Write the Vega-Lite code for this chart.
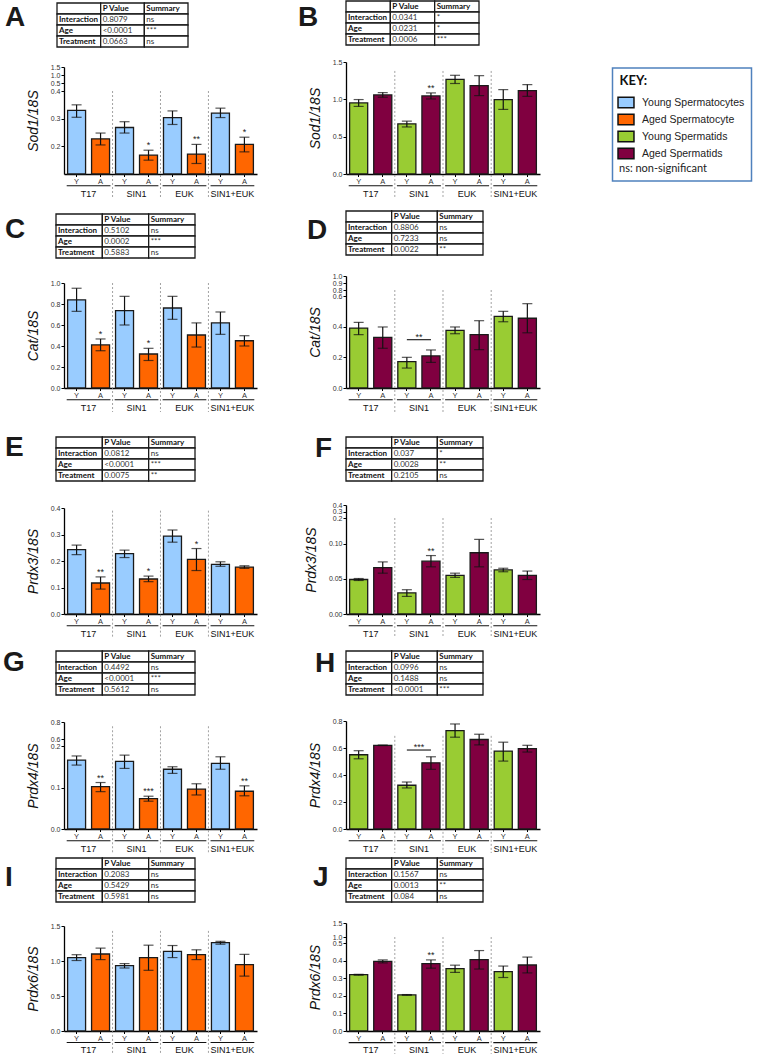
{
"$schema": "https://vega.github.io/schema/vega-lite/v6.json",
"background": "white",
"padding": {"left": 3, "top": 0, "right": 3, "bottom": 0},
"datasets": {
"groups": [
{"treat":"T17","c1":"T17|Y","c2":"T17|A"},
{"treat":"SIN1","c1":"SIN1|Y","c2":"SIN1|A"},
{"treat":"EUK","c1":"EUK|Y","c2":"EUK|A"},
{"treat":"SIN1+EUK","c1":"SIN1+EUK|Y","c2":"SIN1+EUK|A"}
],
"siglines": [
{"panel":"D","c1":"SIN1|Y","c2":"SIN1|A","yv":0.315,"label":"**"},
{"panel":"H","c1":"SIN1|Y","c2":"SIN1|A","yv":0.585,"label":"***"}
],
"tables": [
{"panel":"A","row":"0","term":"","p":"P Value","s":"Summary"},
{"panel":"A","row":"1","term":"Interaction","p":"0.8079","s":"ns"},
{"panel":"A","row":"2","term":"Age","p":"<0.0001","s":"***"},
{"panel":"A","row":"3","term":"Treatment","p":"0.0663","s":"ns"},
{"panel":"B","row":"0","term":"","p":"P Value","s":"Summary"},
{"panel":"B","row":"1","term":"Interaction","p":"0.0341","s":"*"},
{"panel":"B","row":"2","term":"Age","p":"0.0231","s":"*"},
{"panel":"B","row":"3","term":"Treatment","p":"0.0006","s":"***"},
{"panel":"C","row":"0","term":"","p":"P Value","s":"Summary"},
{"panel":"C","row":"1","term":"Interaction","p":"0.5102","s":"ns"},
{"panel":"C","row":"2","term":"Age","p":"0.0002","s":"***"},
{"panel":"C","row":"3","term":"Treatment","p":"0.5883","s":"ns"},
{"panel":"D","row":"0","term":"","p":"P Value","s":"Summary"},
{"panel":"D","row":"1","term":"Interaction","p":"0.8806","s":"ns"},
{"panel":"D","row":"2","term":"Age","p":"0.7233","s":"ns"},
{"panel":"D","row":"3","term":"Treatment","p":"0.0022","s":"**"},
{"panel":"E","row":"0","term":"","p":"P Value","s":"Summary"},
{"panel":"E","row":"1","term":"Interaction","p":"0.0812","s":"ns"},
{"panel":"E","row":"2","term":"Age","p":"<0.0001","s":"***"},
{"panel":"E","row":"3","term":"Treatment","p":"0.0075","s":"**"},
{"panel":"F","row":"0","term":"","p":"P Value","s":"Summary"},
{"panel":"F","row":"1","term":"Interaction","p":"0.037","s":"*"},
{"panel":"F","row":"2","term":"Age","p":"0.0028","s":"**"},
{"panel":"F","row":"3","term":"Treatment","p":"0.2105","s":"ns"},
{"panel":"G","row":"0","term":"","p":"P Value","s":"Summary"},
{"panel":"G","row":"1","term":"Interaction","p":"0.4492","s":"ns"},
{"panel":"G","row":"2","term":"Age","p":"<0.0001","s":"***"},
{"panel":"G","row":"3","term":"Treatment","p":"0.5612","s":"ns"},
{"panel":"H","row":"0","term":"","p":"P Value","s":"Summary"},
{"panel":"H","row":"1","term":"Interaction","p":"0.0996","s":"ns"},
{"panel":"H","row":"2","term":"Age","p":"0.1488","s":"ns"},
{"panel":"H","row":"3","term":"Treatment","p":"<0.0001","s":"***"},
{"panel":"I","row":"0","term":"","p":"P Value","s":"Summary"},
{"panel":"I","row":"1","term":"Interaction","p":"0.2083","s":"ns"},
{"panel":"I","row":"2","term":"Age","p":"0.5429","s":"ns"},
{"panel":"I","row":"3","term":"Treatment","p":"0.5981","s":"ns"},
{"panel":"J","row":"0","term":"","p":"P Value","s":"Summary"},
{"panel":"J","row":"1","term":"Interaction","p":"0.1567","s":"ns"},
{"panel":"J","row":"2","term":"Age","p":"0.0013","s":"**"},
{"panel":"J","row":"3","term":"Treatment","p":"0.084","s":"ns"}
],
"bars": [
{"panel":"A","cat":"T17|Y","group":"Young Spermatocytes","mean":0.330,"lo":0.305,"hi":0.350,"sig":""},
{"panel":"A","cat":"T17|A","group":"Aged Spermatocyte","mean":0.227,"lo":0.205,"hi":0.248,"sig":""},
{"panel":"A","cat":"SIN1|Y","group":"Young Spermatocytes","mean":0.268,"lo":0.248,"hi":0.289,"sig":""},
{"panel":"A","cat":"SIN1|A","group":"Aged Spermatocyte","mean":0.168,"lo":0.150,"hi":0.186,"sig":"*"},
{"panel":"A","cat":"EUK|Y","group":"Young Spermatocytes","mean":0.304,"lo":0.279,"hi":0.328,"sig":""},
{"panel":"A","cat":"EUK|A","group":"Aged Spermatocyte","mean":0.172,"lo":0.138,"hi":0.207,"sig":"**"},
{"panel":"A","cat":"SIN1+EUK|Y","group":"Young Spermatocytes","mean":0.320,"lo":0.304,"hi":0.338,"sig":""},
{"panel":"A","cat":"SIN1+EUK|A","group":"Aged Spermatocyte","mean":0.207,"lo":0.180,"hi":0.233,"sig":"*"},
{"panel":"B","cat":"T17|Y","group":"Young Spermatids","mean":0.952,"lo":0.905,"hi":0.997,"sig":""},
{"panel":"B","cat":"T17|A","group":"Aged Spermatids","mean":1.059,"lo":1.028,"hi":1.090,"sig":""},
{"panel":"B","cat":"SIN1|Y","group":"Young Spermatids","mean":0.672,"lo":0.630,"hi":0.708,"sig":""},
{"panel":"B","cat":"SIN1|A","group":"Aged Spermatids","mean":1.046,"lo":1.005,"hi":1.086,"sig":"**"},
{"panel":"B","cat":"EUK|Y","group":"Young Spermatids","mean":1.268,"lo":1.212,"hi":1.322,"sig":""},
{"panel":"B","cat":"EUK|A","group":"Aged Spermatids","mean":1.184,"lo":1.050,"hi":1.317,"sig":""},
{"panel":"B","cat":"SIN1+EUK|Y","group":"Young Spermatids","mean":0.997,"lo":0.865,"hi":1.130,"sig":""},
{"panel":"B","cat":"SIN1+EUK|A","group":"Aged Spermatids","mean":1.116,"lo":1.040,"hi":1.197,"sig":""},
{"panel":"C","cat":"T17|Y","group":"Young Spermatocytes","mean":0.840,"lo":0.730,"hi":0.950,"sig":""},
{"panel":"C","cat":"T17|A","group":"Aged Spermatocyte","mean":0.410,"lo":0.355,"hi":0.467,"sig":"*"},
{"panel":"C","cat":"SIN1|Y","group":"Young Spermatocytes","mean":0.737,"lo":0.600,"hi":0.873,"sig":""},
{"panel":"C","cat":"SIN1|A","group":"Aged Spermatocyte","mean":0.324,"lo":0.262,"hi":0.378,"sig":"*"},
{"panel":"C","cat":"EUK|Y","group":"Young Spermatocytes","mean":0.762,"lo":0.654,"hi":0.873,"sig":""},
{"panel":"C","cat":"EUK|A","group":"Aged Spermatocyte","mean":0.505,"lo":0.390,"hi":0.620,"sig":""},
{"panel":"C","cat":"SIN1+EUK|Y","group":"Young Spermatocytes","mean":0.620,"lo":0.511,"hi":0.724,"sig":""},
{"panel":"C","cat":"SIN1+EUK|A","group":"Aged Spermatocyte","mean":0.450,"lo":0.400,"hi":0.498,"sig":""},
{"panel":"D","cat":"T17|Y","group":"Young Spermatids","mean":0.391,"lo":0.348,"hi":0.428,"sig":""},
{"panel":"D","cat":"T17|A","group":"Aged Spermatids","mean":0.330,"lo":0.259,"hi":0.398,"sig":""},
{"panel":"D","cat":"SIN1|Y","group":"Young Spermatids","mean":0.172,"lo":0.130,"hi":0.200,"sig":""},
{"panel":"D","cat":"SIN1|A","group":"Aged Spermatids","mean":0.209,"lo":0.167,"hi":0.248,"sig":""},
{"panel":"D","cat":"EUK|Y","group":"Young Spermatids","mean":0.376,"lo":0.354,"hi":0.398,"sig":""},
{"panel":"D","cat":"EUK|A","group":"Aged Spermatids","mean":0.348,"lo":0.250,"hi":0.439,"sig":""},
{"panel":"D","cat":"SIN1+EUK|Y","group":"Young Spermatids","mean":0.467,"lo":0.432,"hi":0.500,"sig":""},
{"panel":"D","cat":"SIN1+EUK|A","group":"Aged Spermatids","mean":0.455,"lo":0.360,"hi":0.550,"sig":""},
{"panel":"E","cat":"T17|Y","group":"Young Spermatocytes","mean":0.243,"lo":0.224,"hi":0.260,"sig":""},
{"panel":"E","cat":"T17|A","group":"Aged Spermatocyte","mean":0.117,"lo":0.094,"hi":0.140,"sig":"**"},
{"panel":"E","cat":"SIN1|Y","group":"Young Spermatocytes","mean":0.228,"lo":0.213,"hi":0.241,"sig":""},
{"panel":"E","cat":"SIN1|A","group":"Aged Spermatocyte","mean":0.132,"lo":0.122,"hi":0.143,"sig":"*"},
{"panel":"E","cat":"EUK|Y","group":"Young Spermatocytes","mean":0.294,"lo":0.271,"hi":0.317,"sig":""},
{"panel":"E","cat":"EUK|A","group":"Aged Spermatocyte","mean":0.206,"lo":0.164,"hi":0.247,"sig":"*"},
{"panel":"E","cat":"SIN1+EUK|Y","group":"Young Spermatocytes","mean":0.187,"lo":0.180,"hi":0.197,"sig":""},
{"panel":"E","cat":"SIN1+EUK|A","group":"Aged Spermatocyte","mean":0.177,"lo":0.172,"hi":0.182,"sig":""},
{"panel":"F","cat":"T17|Y","group":"Young Spermatids","mean":0.049,"lo":0.0476,"hi":0.0504,"sig":""},
{"panel":"F","cat":"T17|A","group":"Aged Spermatids","mean":0.066,"lo":0.058,"hi":0.074,"sig":""},
{"panel":"F","cat":"SIN1|Y","group":"Young Spermatids","mean":0.030,"lo":0.025,"hi":0.0345,"sig":""},
{"panel":"F","cat":"SIN1|A","group":"Aged Spermatids","mean":0.075,"lo":0.067,"hi":0.083,"sig":"**"},
{"panel":"F","cat":"EUK|Y","group":"Young Spermatids","mean":0.055,"lo":0.052,"hi":0.058,"sig":""},
{"panel":"F","cat":"EUK|A","group":"Aged Spermatids","mean":0.087,"lo":0.067,"hi":0.106,"sig":""},
{"panel":"F","cat":"SIN1+EUK|Y","group":"Young Spermatids","mean":0.0626,"lo":0.060,"hi":0.065,"sig":""},
{"panel":"F","cat":"SIN1+EUK|A","group":"Aged Spermatids","mean":0.055,"lo":0.049,"hi":0.061,"sig":""},
{"panel":"G","cat":"T17|Y","group":"Young Spermatocytes","mean":0.166,"lo":0.154,"hi":0.176,"sig":""},
{"panel":"G","cat":"T17|A","group":"Aged Spermatocyte","mean":0.102,"lo":0.090,"hi":0.112,"sig":"**"},
{"panel":"G","cat":"SIN1|Y","group":"Young Spermatocytes","mean":0.163,"lo":0.146,"hi":0.178,"sig":""},
{"panel":"G","cat":"SIN1|A","group":"Aged Spermatocyte","mean":0.073,"lo":0.067,"hi":0.079,"sig":"***"},
{"panel":"G","cat":"EUK|Y","group":"Young Spermatocytes","mean":0.144,"lo":0.134,"hi":0.150,"sig":""},
{"panel":"G","cat":"EUK|A","group":"Aged Spermatocyte","mean":0.096,"lo":0.082,"hi":0.109,"sig":""},
{"panel":"G","cat":"SIN1+EUK|Y","group":"Young Spermatocytes","mean":0.158,"lo":0.144,"hi":0.174,"sig":""},
{"panel":"G","cat":"SIN1+EUK|A","group":"Aged Spermatocyte","mean":0.091,"lo":0.080,"hi":0.104,"sig":"**"},
{"panel":"H","cat":"T17|Y","group":"Young Spermatids","mean":0.550,"lo":0.520,"hi":0.580,"sig":""},
{"panel":"H","cat":"T17|A","group":"Aged Spermatids","mean":0.620,"lo":0.618,"hi":0.622,"sig":""},
{"panel":"H","cat":"SIN1|Y","group":"Young Spermatids","mean":0.324,"lo":0.304,"hi":0.348,"sig":""},
{"panel":"H","cat":"SIN1|A","group":"Aged Spermatids","mean":0.490,"lo":0.442,"hi":0.535,"sig":""},
{"panel":"H","cat":"EUK|Y","group":"Young Spermatids","mean":0.729,"lo":0.680,"hi":0.778,"sig":""},
{"panel":"H","cat":"EUK|A","group":"Aged Spermatids","mean":0.663,"lo":0.623,"hi":0.702,"sig":""},
{"panel":"H","cat":"SIN1+EUK|Y","group":"Young Spermatids","mean":0.577,"lo":0.503,"hi":0.643,"sig":""},
{"panel":"H","cat":"SIN1+EUK|A","group":"Aged Spermatids","mean":0.595,"lo":0.570,"hi":0.620,"sig":""},
{"panel":"I","cat":"T17|Y","group":"Young Spermatocytes","mean":1.049,"lo":1.007,"hi":1.090,"sig":""},
{"panel":"I","cat":"T17|A","group":"Aged Spermatocyte","mean":1.100,"lo":1.020,"hi":1.184,"sig":""},
{"panel":"I","cat":"SIN1|Y","group":"Young Spermatocytes","mean":0.933,"lo":0.900,"hi":0.963,"sig":""},
{"panel":"I","cat":"SIN1|A","group":"Aged Spermatocyte","mean":1.049,"lo":0.867,"hi":1.226,"sig":""},
{"panel":"I","cat":"EUK|Y","group":"Young Spermatocytes","mean":1.137,"lo":1.049,"hi":1.221,"sig":""},
{"panel":"I","cat":"EUK|A","group":"Aged Spermatocyte","mean":1.090,"lo":1.020,"hi":1.160,"sig":""},
{"panel":"I","cat":"SIN1+EUK|Y","group":"Young Spermatocytes","mean":1.263,"lo":1.240,"hi":1.281,"sig":""},
{"panel":"I","cat":"SIN1+EUK|A","group":"Aged Spermatocyte","mean":0.947,"lo":0.784,"hi":1.095,"sig":""},
{"panel":"J","cat":"T17|Y","group":"Young Spermatids","mean":0.320,"lo":0.317,"hi":0.322,"sig":""},
{"panel":"J","cat":"T17|A","group":"Aged Spermatids","mean":0.396,"lo":0.387,"hi":0.404,"sig":""},
{"panel":"J","cat":"SIN1|Y","group":"Young Spermatids","mean":0.205,"lo":0.203,"hi":0.207,"sig":""},
{"panel":"J","cat":"SIN1|A","group":"Aged Spermatids","mean":0.383,"lo":0.357,"hi":0.404,"sig":"**"},
{"panel":"J","cat":"EUK|Y","group":"Young Spermatids","mean":0.354,"lo":0.333,"hi":0.374,"sig":""},
{"panel":"J","cat":"EUK|A","group":"Aged Spermatids","mean":0.405,"lo":0.352,"hi":0.457,"sig":""},
{"panel":"J","cat":"SIN1+EUK|Y","group":"Young Spermatids","mean":0.337,"lo":0.304,"hi":0.369,"sig":""},
{"panel":"J","cat":"SIN1+EUK|A","group":"Aged Spermatids","mean":0.375,"lo":0.330,"hi":0.420,"sig":""}
]
},
"columns": 2,
"spacing": {"row": 0, "column": 89},
"bounds": "flush",
"concat": [
{"width": 124, "height": 61, "data": {"name": "tables"}, "transform": [{"filter": "datum.panel === 'A'"}, {"fold": ["term","p","s"], "as": ["col","text"]}],
 "encoding": {"x": {"field": "col", "type": "nominal", "scale": {"domain": ["term","p","s"], "range": [-7, 124], "paddingInner": 0, "paddingOuter": 0}, "axis": null}, "y": {"field": "row", "type": "nominal", "scale": {"domain": ["0","1","2","3"], "range": [2, 46], "paddingInner": 0, "paddingOuter": 0}, "axis": null}},
 "layer": [
  {"mark": {"type": "rect", "fill": "white", "stroke": "#1a1a1a", "strokeWidth": 1.3}},
  {"transform": [{"filter": "datum.row === '0' || datum.col === 'term'"}], "mark": {"type": "text", "align": "left", "baseline": "middle", "dx": 2, "font": "Lato", "fontSize": 8, "fontWeight": "bold", "color": "#111"}, "encoding": {"x": {"field": "col", "type": "nominal", "bandPosition": 0, "axis": null}, "text": {"field": "text"}}},
  {"transform": [{"filter": "datum.row !== '0' && datum.col !== 'term'"}], "mark": {"type": "text", "align": "left", "baseline": "middle", "dx": 2, "font": "Lato", "fontSize": 8, "color": "#333"}, "encoding": {"x": {"field": "col", "type": "nominal", "bandPosition": 0, "axis": null}, "text": {"field": "text"}}},
  {"transform": [{"filter": "datum.row === '0' && datum.col === 'term'"}], "mark": {"type": "text", "align": "left", "baseline": "alphabetic", "dx": -52, "dy": 23, "fontSize": 28, "fontWeight": "bold", "color": "#1a1a1a"}, "encoding": {"x": {"field": "col", "type": "nominal", "bandPosition": 0, "axis": null}, "y": {"field": "row", "type": "nominal", "bandPosition": 0, "axis": null}, "text": {"field": "panel"}}}
 ]},
{"width": 133, "height": 61, "data": {"name": "tables"}, "transform": [{"filter": "datum.panel === 'B'"}, {"fold": ["term","p","s"], "as": ["col","text"]}],
 "encoding": {"x": {"field": "col", "type": "nominal", "scale": {"domain": ["term","p","s"], "range": [0, 133], "paddingInner": 0, "paddingOuter": 0}, "axis": null}, "y": {"field": "row", "type": "nominal", "scale": {"domain": ["0","1","2","3"], "range": [0, 44], "paddingInner": 0, "paddingOuter": 0}, "axis": null}},
 "layer": [
  {"mark": {"type": "rect", "fill": "white", "stroke": "#1a1a1a", "strokeWidth": 1.3}},
  {"transform": [{"filter": "datum.row === '0' || datum.col === 'term'"}], "mark": {"type": "text", "align": "left", "baseline": "middle", "dx": 2, "font": "Lato", "fontSize": 8, "fontWeight": "bold", "color": "#111"}, "encoding": {"x": {"field": "col", "type": "nominal", "bandPosition": 0, "axis": null}, "text": {"field": "text"}}},
  {"transform": [{"filter": "datum.row !== '0' && datum.col !== 'term'"}], "mark": {"type": "text", "align": "left", "baseline": "middle", "dx": 2, "font": "Lato", "fontSize": 8, "color": "#333"}, "encoding": {"x": {"field": "col", "type": "nominal", "bandPosition": 0, "axis": null}, "text": {"field": "text"}}},
  {"transform": [{"filter": "datum.row === '0' && datum.col === 'term'"}], "mark": {"type": "text", "align": "left", "baseline": "alphabetic", "dx": -48, "dy": 25, "fontSize": 28, "fontWeight": "bold", "color": "#1a1a1a"}, "encoding": {"x": {"field": "col", "type": "nominal", "bandPosition": 0, "axis": null}, "y": {"field": "row", "type": "nominal", "bandPosition": 0, "axis": null}, "text": {"field": "panel"}}}
 ]},
{"width": 193, "height": 112,
 "encoding": {"x": {"field": "cat", "type": "nominal", "scale": {"type": "band", "domain": ["T17|Y","T17|A","SIN1|Y","SIN1|A","EUK|Y","EUK|A","SIN1+EUK|Y","SIN1+EUK|A"], "paddingInner": 0.25, "paddingOuter": 0.15}, "axis": {"title": null, "labelExpr": "split(datum.label, '|')[1]", "labelOverlap": false}}},
 "layer": [
  {"data": {"name": "groups"}, "transform": [{"filter": "datum.treat !== 'T17'"}], "mark": {"type": "rule", "color": "#8c8c8c", "strokeDash": [2,2], "strokeWidth": 0.8}, "encoding": {"x": {"field": "c1", "type": "nominal", "bandPosition": -0.1667}, "y": {"datum": 0.4, "type": "quantitative"}, "y2": {"datum": 0.0133}}},
  {"data": {"name": "bars"}, "transform": [{"filter": "datum.panel === 'A'"}], "mark": {"type": "bar", "stroke": "#1a1a1a", "strokeWidth": 1.3},
   "encoding": {"y": {"field": "mean", "type": "quantitative", "title": "Sod1/18S", "scale": {"domain": [0.1,0.4,0.5,1.5], "range": [112,29,21,5], "zero": false, "nice": false}, "axis": {"title": "Sod1/18S", "values": [0.2,0.3,0.4,0.5,1.0,1.5], "format": ".1f", "labelOverlap": false, "labelBound": false, "tickCount": 30}}, "y2": {"datum": 0.1},
    "color": {"field": "group", "type": "nominal", "scale": {"domain": ["Young Spermatocytes","Aged Spermatocyte","Young Spermatids","Aged Spermatids","ns: non-significant"], "range": ["#99ccff","#ff6600","#99cc33","#800040","#ffffff"]},
     "legend": {"orient": "none", "legendX": 548.5, "legendY": 67, "direction": "vertical", "title": "KEY:", "titleFont": "Lato", "titleFontSize": 13, "titleFontWeight": "bold", "titleColor": "#111", "titleAnchor": "start", "titlePadding": 8, "labelFont": "Liberation Sans", "labelFontSize": 10.5, "labelColor": "#222", "labelOffset": 9.5, "symbolType": "M-1.45,-0.95H1.45V0.95H-1.45Z", "symbolSize": 121, "symbolStrokeColor": "#111", "symbolStrokeWidth": 1.5, "symbolOpacity": 1, "rowPadding": 0, "padding": 7, "strokeColor": "#4f81bd", "fillColor": "#ffffff",
      "encode": {"legend": {"update": {"strokeWidth": {"value": 1.5}}}, "symbols": {"update": {"opacity": {"signal": "datum.value === 'ns: non-significant' ? 0 : 1"}}}, "labels": {"update": {"dx": {"signal": "datum.value === 'ns: non-significant' ? -23 : 0"}, "font": {"signal": "datum.value === 'ns: non-significant' ? 'Lato' : 'Liberation Sans'"}, "fontSize": {"signal": "datum.value === 'ns: non-significant' ? 11 : 10.5"}}}}}}}},
  {"data": {"name": "bars"}, "transform": [{"filter": "datum.panel === 'A'"}], "mark": {"type": "errorbar", "color": "#111", "ticks": {"size": 10, "thickness": 1.2, "color": "#111"}, "rule": {"strokeWidth": 1.2, "color": "#111"}}, "encoding": {"y": {"field": "lo", "type": "quantitative", "title": "Sod1/18S"}, "y2": {"field": "hi"}}},
  {"data": {"name": "bars"}, "transform": [{"filter": "datum.panel === 'A' && datum.sig !== ''"}], "mark": {"type": "text", "fontSize": 9, "dy": -2, "baseline": "alphabetic", "color": "#222"}, "encoding": {"y": {"field": "hi", "type": "quantitative", "title": "Sod1/18S"}, "text": {"field": "sig"}}},
  {"data": {"name": "groups"}, "mark": {"type": "rule", "color": "#111", "strokeWidth": 1.1}, "encoding": {"x": {"field": "c1", "type": "nominal", "bandPosition": -0.05}, "x2": {"field": "c2", "bandPosition": 1.05}, "y": {"datum": 0.0577, "type": "quantitative"}}},
  {"data": {"name": "groups"}, "mark": {"type": "text", "fontSize": 9, "baseline": "middle", "color": "#111"}, "encoding": {"x": {"field": "c1", "type": "nominal", "bandPosition": 1.1667}, "y": {"datum": 0.0277, "type": "quantitative"}, "text": {"field": "treat"}}}
 ]},
{"width": 194, "height": 112,
 "encoding": {"x": {"field": "cat", "type": "nominal", "scale": {"type": "band", "domain": ["T17|Y","T17|A","SIN1|Y","SIN1|A","EUK|Y","EUK|A","SIN1+EUK|Y","SIN1+EUK|A"], "paddingInner": 0.25, "paddingOuter": 0.15}, "axis": {"title": null, "labelExpr": "split(datum.label, '|')[1]", "labelOverlap": false}}},
 "layer": [
  {"data": {"name": "groups"}, "transform": [{"filter": "datum.treat !== 'T17'"}], "mark": {"type": "rule", "color": "#8c8c8c", "strokeDash": [2,2], "strokeWidth": 0.8}, "encoding": {"x": {"field": "c1", "type": "nominal", "bandPosition": -0.1667}, "y": {"datum": 1.38, "type": "quantitative"}, "y2": {"datum": -0.3214}}},
  {"data": {"name": "bars"}, "transform": [{"filter": "datum.panel === 'B'"}], "mark": {"type": "bar", "stroke": "#1a1a1a", "strokeWidth": 1.3},
   "encoding": {"y": {"field": "mean", "type": "quantitative", "title": "Sod1/18S", "scale": {"domain": [0,1.5], "range": [112,0], "zero": false, "nice": false}, "axis": {"title": "Sod1/18S", "values": [0,0.5,1.0,1.5], "format": ".1f", "labelOverlap": false, "labelBound": false, "tickCount": 30}},
    "color": {"field": "group", "type": "nominal", "scale": {"domain": ["Young Spermatocytes","Aged Spermatocyte","Young Spermatids","Aged Spermatids","ns: non-significant"], "range": ["#99ccff","#ff6600","#99cc33","#800040","#ffffff"]}, "legend": null}}},
  {"data": {"name": "bars"}, "transform": [{"filter": "datum.panel === 'B'"}], "mark": {"type": "errorbar", "color": "#111", "ticks": {"size": 10, "thickness": 1.2, "color": "#111"}, "rule": {"strokeWidth": 1.2, "color": "#111"}}, "encoding": {"y": {"field": "lo", "type": "quantitative", "title": "Sod1/18S"}, "y2": {"field": "hi"}}},
  {"data": {"name": "bars"}, "transform": [{"filter": "datum.panel === 'B' && datum.sig !== ''"}], "mark": {"type": "text", "fontSize": 9, "dy": -2, "baseline": "alphabetic", "color": "#222"}, "encoding": {"y": {"field": "hi", "type": "quantitative", "title": "Sod1/18S"}, "text": {"field": "sig"}}},
  {"data": {"name": "groups"}, "mark": {"type": "rule", "color": "#111", "strokeWidth": 1.1}, "encoding": {"x": {"field": "c1", "type": "nominal", "bandPosition": -0.05}, "x2": {"field": "c2", "bandPosition": 1.05}, "y": {"datum": -0.1567, "type": "quantitative"}}},
  {"data": {"name": "groups"}, "mark": {"type": "text", "fontSize": 9, "baseline": "middle", "color": "#111"}, "encoding": {"x": {"field": "c1", "type": "nominal", "bandPosition": 1.1667}, "y": {"datum": -0.2679, "type": "quantitative"}, "text": {"field": "treat"}}}
 ]},
{"width": 131, "height": 102, "data": {"name": "tables"}, "transform": [{"filter": "datum.panel === 'C'"}, {"fold": ["term","p","s"], "as": ["col","text"]}],
 "encoding": {"x": {"field": "col", "type": "nominal", "scale": {"domain": ["term","p","s"], "range": [-8, 131], "paddingInner": 0, "paddingOuter": 0}, "axis": null}, "y": {"field": "row", "type": "nominal", "scale": {"domain": ["0","1","2","3"], "range": [40, 84], "paddingInner": 0, "paddingOuter": 0}, "axis": null}},
 "layer": [
  {"mark": {"type": "rect", "fill": "white", "stroke": "#1a1a1a", "strokeWidth": 1.3}},
  {"transform": [{"filter": "datum.row === '0' || datum.col === 'term'"}], "mark": {"type": "text", "align": "left", "baseline": "middle", "dx": 2, "font": "Lato", "fontSize": 8, "fontWeight": "bold", "color": "#111"}, "encoding": {"x": {"field": "col", "type": "nominal", "bandPosition": 0, "axis": null}, "text": {"field": "text"}}},
  {"transform": [{"filter": "datum.row !== '0' && datum.col !== 'term'"}], "mark": {"type": "text", "align": "left", "baseline": "middle", "dx": 2, "font": "Lato", "fontSize": 8, "color": "#333"}, "encoding": {"x": {"field": "col", "type": "nominal", "bandPosition": 0, "axis": null}, "text": {"field": "text"}}},
  {"transform": [{"filter": "datum.row === '0' && datum.col === 'term'"}], "mark": {"type": "text", "align": "left", "baseline": "alphabetic", "dx": -51, "dy": 24, "fontSize": 28, "fontWeight": "bold", "color": "#1a1a1a"}, "encoding": {"x": {"field": "col", "type": "nominal", "bandPosition": 0, "axis": null}, "y": {"field": "row", "type": "nominal", "bandPosition": 0, "axis": null}, "text": {"field": "panel"}}}
 ]},
{"width": 137, "height": 102, "data": {"name": "tables"}, "transform": [{"filter": "datum.panel === 'D'"}, {"fold": ["term","p","s"], "as": ["col","text"]}],
 "encoding": {"x": {"field": "col", "type": "nominal", "scale": {"domain": ["term","p","s"], "range": [0, 137], "paddingInner": 0, "paddingOuter": 0}, "axis": null}, "y": {"field": "row", "type": "nominal", "scale": {"domain": ["0","1","2","3"], "range": [37, 81], "paddingInner": 0, "paddingOuter": 0}, "axis": null}},
 "layer": [
  {"mark": {"type": "rect", "fill": "white", "stroke": "#1a1a1a", "strokeWidth": 1.3}},
  {"transform": [{"filter": "datum.row === '0' || datum.col === 'term'"}], "mark": {"type": "text", "align": "left", "baseline": "middle", "dx": 2, "font": "Lato", "fontSize": 8, "fontWeight": "bold", "color": "#111"}, "encoding": {"x": {"field": "col", "type": "nominal", "bandPosition": 0, "axis": null}, "text": {"field": "text"}}},
  {"transform": [{"filter": "datum.row !== '0' && datum.col !== 'term'"}], "mark": {"type": "text", "align": "left", "baseline": "middle", "dx": 2, "font": "Lato", "fontSize": 8, "color": "#333"}, "encoding": {"x": {"field": "col", "type": "nominal", "bandPosition": 0, "axis": null}, "text": {"field": "text"}}},
  {"transform": [{"filter": "datum.row === '0' && datum.col === 'term'"}], "mark": {"type": "text", "align": "left", "baseline": "alphabetic", "dx": -39, "dy": 28, "fontSize": 28, "fontWeight": "bold", "color": "#1a1a1a"}, "encoding": {"x": {"field": "col", "type": "nominal", "bandPosition": 0, "axis": null}, "y": {"field": "row", "type": "nominal", "bandPosition": 0, "axis": null}, "text": {"field": "panel"}}}
 ]},
{"width": 193, "height": 112,
 "encoding": {"x": {"field": "cat", "type": "nominal", "scale": {"type": "band", "domain": ["T17|Y","T17|A","SIN1|Y","SIN1|A","EUK|Y","EUK|A","SIN1+EUK|Y","SIN1+EUK|A"], "paddingInner": 0.25, "paddingOuter": 0.15}, "axis": {"title": null, "labelExpr": "split(datum.label, '|')[1]", "labelOverlap": false}}},
 "layer": [
  {"data": {"name": "groups"}, "transform": [{"filter": "datum.treat !== 'T17'"}], "mark": {"type": "rule", "color": "#8c8c8c", "strokeDash": [2,2], "strokeWidth": 0.8}, "encoding": {"x": {"field": "c1", "type": "nominal", "bandPosition": -0.1667}, "y": {"datum": 1.0, "type": "quantitative"}, "y2": {"datum": -0.2286}}},
  {"data": {"name": "bars"}, "transform": [{"filter": "datum.panel === 'C'"}], "mark": {"type": "bar", "stroke": "#1a1a1a", "strokeWidth": 1.3},
   "encoding": {"y": {"field": "mean", "type": "quantitative", "title": "Cat/18S", "scale": {"domain": [0,1], "range": [112,7], "zero": false, "nice": false}, "axis": {"title": "Cat/18S", "values": [0,0.2,0.4,0.6,0.8,1.0], "format": ".1f", "labelOverlap": false, "labelBound": false, "tickCount": 30}},
    "color": {"field": "group", "type": "nominal", "scale": {"domain": ["Young Spermatocytes","Aged Spermatocyte","Young Spermatids","Aged Spermatids","ns: non-significant"], "range": ["#99ccff","#ff6600","#99cc33","#800040","#ffffff"]}, "legend": null}}},
  {"data": {"name": "bars"}, "transform": [{"filter": "datum.panel === 'C'"}], "mark": {"type": "errorbar", "color": "#111", "ticks": {"size": 10, "thickness": 1.2, "color": "#111"}, "rule": {"strokeWidth": 1.2, "color": "#111"}}, "encoding": {"y": {"field": "lo", "type": "quantitative", "title": "Cat/18S"}, "y2": {"field": "hi"}}},
  {"data": {"name": "bars"}, "transform": [{"filter": "datum.panel === 'C' && datum.sig !== ''"}], "mark": {"type": "text", "fontSize": 9, "dy": -2, "baseline": "alphabetic", "color": "#222"}, "encoding": {"y": {"field": "hi", "type": "quantitative", "title": "Cat/18S"}, "text": {"field": "sig"}}},
  {"data": {"name": "groups"}, "mark": {"type": "rule", "color": "#111", "strokeWidth": 1.1}, "encoding": {"x": {"field": "c1", "type": "nominal", "bandPosition": -0.05}, "x2": {"field": "c2", "bandPosition": 1.05}, "y": {"datum": -0.1114, "type": "quantitative"}}},
  {"data": {"name": "groups"}, "mark": {"type": "text", "fontSize": 9, "baseline": "middle", "color": "#111"}, "encoding": {"x": {"field": "c1", "type": "nominal", "bandPosition": 1.1667}, "y": {"datum": -0.1905, "type": "quantitative"}, "text": {"field": "treat"}}}
 ]},
{"width": 194, "height": 112,
 "encoding": {"x": {"field": "cat", "type": "nominal", "scale": {"type": "band", "domain": ["T17|Y","T17|A","SIN1|Y","SIN1|A","EUK|Y","EUK|A","SIN1+EUK|Y","SIN1+EUK|A"], "paddingInner": 0.25, "paddingOuter": 0.15}, "axis": {"title": null, "labelExpr": "split(datum.label, '|')[1]", "labelOverlap": false}}},
 "layer": [
  {"data": {"name": "groups"}, "transform": [{"filter": "datum.treat !== 'T17'"}], "mark": {"type": "rule", "color": "#8c8c8c", "strokeDash": [2,2], "strokeWidth": 0.8}, "encoding": {"x": {"field": "c1", "type": "nominal", "bandPosition": -0.1667}, "y": {"datum": 0.8, "type": "quantitative"}, "y2": {"datum": -0.1565}}},
  {"data": {"name": "bars"}, "transform": [{"filter": "datum.panel === 'D'"}], "mark": {"type": "bar", "stroke": "#1a1a1a", "strokeWidth": 1.3},
   "encoding": {"y": {"field": "mean", "type": "quantitative", "title": "Cat/18S", "scale": {"domain": [0,0.6,0.8,1.0], "range": [112,20,14,0], "zero": false, "nice": false}, "axis": {"title": "Cat/18S", "values": [0,0.2,0.4,0.6,0.8,0.9,1.0], "format": ".1f", "labelOverlap": false, "labelBound": false, "tickCount": 30}},
    "color": {"field": "group", "type": "nominal", "scale": {"domain": ["Young Spermatocytes","Aged Spermatocyte","Young Spermatids","Aged Spermatids","ns: non-significant"], "range": ["#99ccff","#ff6600","#99cc33","#800040","#ffffff"]}, "legend": null}}},
  {"data": {"name": "bars"}, "transform": [{"filter": "datum.panel === 'D'"}], "mark": {"type": "errorbar", "color": "#111", "ticks": {"size": 10, "thickness": 1.2, "color": "#111"}, "rule": {"strokeWidth": 1.2, "color": "#111"}}, "encoding": {"y": {"field": "lo", "type": "quantitative", "title": "Cat/18S"}, "y2": {"field": "hi"}}},
  {"data": {"name": "siglines"}, "transform": [{"filter": "datum.panel === 'D'"}], "mark": {"type": "rule", "color": "#111", "strokeWidth": 1.1}, "encoding": {"x": {"field": "c1", "type": "nominal", "bandPosition": 0.5}, "x2": {"field": "c2", "bandPosition": 0.5}, "y": {"field": "yv", "type": "quantitative", "title": "Cat/18S"}}},
  {"data": {"name": "siglines"}, "transform": [{"filter": "datum.panel === 'D'"}], "mark": {"type": "text", "fontSize": 9, "baseline": "alphabetic", "dy": 0, "color": "#222"}, "encoding": {"x": {"field": "c1", "type": "nominal", "bandPosition": 1.1667}, "y": {"field": "yv", "type": "quantitative", "title": "Cat/18S"}, "text": {"field": "label"}}},
  {"data": {"name": "groups"}, "mark": {"type": "rule", "color": "#111", "strokeWidth": 1.1}, "encoding": {"x": {"field": "c1", "type": "nominal", "bandPosition": -0.05}, "x2": {"field": "c2", "bandPosition": 1.05}, "y": {"datum": -0.0763, "type": "quantitative"}}},
  {"data": {"name": "groups"}, "mark": {"type": "text", "fontSize": 9, "baseline": "middle", "color": "#111"}, "encoding": {"x": {"field": "c1", "type": "nominal", "bandPosition": 1.1667}, "y": {"datum": -0.1304, "type": "quantitative"}, "text": {"field": "treat"}}}
 ]},
{"width": 131, "height": 117, "data": {"name": "tables"}, "transform": [{"filter": "datum.panel === 'E'"}, {"fold": ["term","p","s"], "as": ["col","text"]}],
 "encoding": {"x": {"field": "col", "type": "nominal", "scale": {"domain": ["term","p","s"], "range": [-8, 131], "paddingInner": 0, "paddingOuter": 0}, "axis": null}, "y": {"field": "row", "type": "nominal", "scale": {"domain": ["0","1","2","3"], "range": [49, 93], "paddingInner": 0, "paddingOuter": 0}, "axis": null}},
 "layer": [
  {"mark": {"type": "rect", "fill": "white", "stroke": "#1a1a1a", "strokeWidth": 1.3}},
  {"transform": [{"filter": "datum.row === '0' || datum.col === 'term'"}], "mark": {"type": "text", "align": "left", "baseline": "middle", "dx": 2, "font": "Lato", "fontSize": 8, "fontWeight": "bold", "color": "#111"}, "encoding": {"x": {"field": "col", "type": "nominal", "bandPosition": 0, "axis": null}, "text": {"field": "text"}}},
  {"transform": [{"filter": "datum.row !== '0' && datum.col !== 'term'"}], "mark": {"type": "text", "align": "left", "baseline": "middle", "dx": 2, "font": "Lato", "fontSize": 8, "color": "#333"}, "encoding": {"x": {"field": "col", "type": "nominal", "bandPosition": 0, "axis": null}, "text": {"field": "text"}}},
  {"transform": [{"filter": "datum.row === '0' && datum.col === 'term'"}], "mark": {"type": "text", "align": "left", "baseline": "alphabetic", "dx": -51, "dy": 19, "fontSize": 28, "fontWeight": "bold", "color": "#1a1a1a"}, "encoding": {"x": {"field": "col", "type": "nominal", "bandPosition": 0, "axis": null}, "y": {"field": "row", "type": "nominal", "bandPosition": 0, "axis": null}, "text": {"field": "panel"}}}
 ]},
{"width": 137, "height": 117, "data": {"name": "tables"}, "transform": [{"filter": "datum.panel === 'F'"}, {"fold": ["term","p","s"], "as": ["col","text"]}],
 "encoding": {"x": {"field": "col", "type": "nominal", "scale": {"domain": ["term","p","s"], "range": [0, 137], "paddingInner": 0, "paddingOuter": 0}, "axis": null}, "y": {"field": "row", "type": "nominal", "scale": {"domain": ["0","1","2","3"], "range": [49, 93], "paddingInner": 0, "paddingOuter": 0}, "axis": null}},
 "layer": [
  {"mark": {"type": "rect", "fill": "white", "stroke": "#1a1a1a", "strokeWidth": 1.3}},
  {"transform": [{"filter": "datum.row === '0' || datum.col === 'term'"}], "mark": {"type": "text", "align": "left", "baseline": "middle", "dx": 2, "font": "Lato", "fontSize": 8, "fontWeight": "bold", "color": "#111"}, "encoding": {"x": {"field": "col", "type": "nominal", "bandPosition": 0, "axis": null}, "text": {"field": "text"}}},
  {"transform": [{"filter": "datum.row !== '0' && datum.col !== 'term'"}], "mark": {"type": "text", "align": "left", "baseline": "middle", "dx": 2, "font": "Lato", "fontSize": 8, "color": "#333"}, "encoding": {"x": {"field": "col", "type": "nominal", "bandPosition": 0, "axis": null}, "text": {"field": "text"}}},
  {"transform": [{"filter": "datum.row === '0' && datum.col === 'term'"}], "mark": {"type": "text", "align": "left", "baseline": "alphabetic", "dx": -31, "dy": 20, "fontSize": 28, "fontWeight": "bold", "color": "#1a1a1a"}, "encoding": {"x": {"field": "col", "type": "nominal", "bandPosition": 0, "axis": null}, "y": {"field": "row", "type": "nominal", "bandPosition": 0, "axis": null}, "text": {"field": "panel"}}}
 ]},
{"width": 193, "height": 109,
 "encoding": {"x": {"field": "cat", "type": "nominal", "scale": {"type": "band", "domain": ["T17|Y","T17|A","SIN1|Y","SIN1|A","EUK|Y","EUK|A","SIN1+EUK|Y","SIN1+EUK|A"], "paddingInner": 0.25, "paddingOuter": 0.15}, "axis": {"title": null, "labelExpr": "split(datum.label, '|')[1]", "labelOverlap": false}}},
 "layer": [
  {"data": {"name": "groups"}, "transform": [{"filter": "datum.treat !== 'T17'"}], "mark": {"type": "rule", "color": "#8c8c8c", "strokeDash": [2,2], "strokeWidth": 0.8}, "encoding": {"x": {"field": "c1", "type": "nominal", "bandPosition": -0.1667}, "y": {"datum": 0.39, "type": "quantitative"}, "y2": {"datum": -0.0906}}},
  {"data": {"name": "bars"}, "transform": [{"filter": "datum.panel === 'E'"}], "mark": {"type": "bar", "stroke": "#1a1a1a", "strokeWidth": 1.3},
   "encoding": {"y": {"field": "mean", "type": "quantitative", "title": "Prdx3/18S", "scale": {"domain": [0,0.4], "range": [109,3], "zero": false, "nice": false}, "axis": {"title": "Prdx3/18S", "values": [0,0.1,0.2,0.3,0.4], "format": ".1f", "labelOverlap": false, "labelBound": false, "tickCount": 30}},
    "color": {"field": "group", "type": "nominal", "scale": {"domain": ["Young Spermatocytes","Aged Spermatocyte","Young Spermatids","Aged Spermatids","ns: non-significant"], "range": ["#99ccff","#ff6600","#99cc33","#800040","#ffffff"]}, "legend": null}}},
  {"data": {"name": "bars"}, "transform": [{"filter": "datum.panel === 'E'"}], "mark": {"type": "errorbar", "color": "#111", "ticks": {"size": 10, "thickness": 1.2, "color": "#111"}, "rule": {"strokeWidth": 1.2, "color": "#111"}}, "encoding": {"y": {"field": "lo", "type": "quantitative", "title": "Prdx3/18S"}, "y2": {"field": "hi"}}},
  {"data": {"name": "bars"}, "transform": [{"filter": "datum.panel === 'E' && datum.sig !== ''"}], "mark": {"type": "text", "fontSize": 9, "dy": -2, "baseline": "alphabetic", "color": "#222"}, "encoding": {"y": {"field": "hi", "type": "quantitative", "title": "Prdx3/18S"}, "text": {"field": "sig"}}},
  {"data": {"name": "groups"}, "mark": {"type": "rule", "color": "#111", "strokeWidth": 1.1}, "encoding": {"x": {"field": "c1", "type": "nominal", "bandPosition": -0.05}, "x2": {"field": "c2", "bandPosition": 1.05}, "y": {"datum": -0.0442, "type": "quantitative"}}},
  {"data": {"name": "groups"}, "mark": {"type": "text", "fontSize": 9, "baseline": "middle", "color": "#111"}, "encoding": {"x": {"field": "c1", "type": "nominal", "bandPosition": 1.1667}, "y": {"datum": -0.0755, "type": "quantitative"}, "text": {"field": "treat"}}}
 ]},
{"width": 194, "height": 109,
 "encoding": {"x": {"field": "cat", "type": "nominal", "scale": {"type": "band", "domain": ["T17|Y","T17|A","SIN1|Y","SIN1|A","EUK|Y","EUK|A","SIN1+EUK|Y","SIN1+EUK|A"], "paddingInner": 0.25, "paddingOuter": 0.15}, "axis": {"title": null, "labelExpr": "split(datum.label, '|')[1]", "labelOverlap": false}}},
 "layer": [
  {"data": {"name": "groups"}, "transform": [{"filter": "datum.treat !== 'T17'"}], "mark": {"type": "rule", "color": "#8c8c8c", "strokeDash": [2,2], "strokeWidth": 0.8}, "encoding": {"x": {"field": "c1", "type": "nominal", "bandPosition": -0.1667}, "y": {"datum": 0.2, "type": "quantitative"}, "y2": {"datum": -0.0341}}},
  {"data": {"name": "bars"}, "transform": [{"filter": "datum.panel === 'F'"}], "mark": {"type": "bar", "stroke": "#1a1a1a", "strokeWidth": 1.3},
   "encoding": {"y": {"field": "mean", "type": "quantitative", "title": "Prdx3/18S", "scale": {"domain": [0,0.125,0.2,0.4], "range": [109,21,13,0], "zero": false, "nice": false}, "axis": {"title": "Prdx3/18S", "values": [0,0.05,0.1,0.2,0.3,0.4], "labelExpr": "datum.value < 0.15 ? format(datum.value, '.2f') : format(datum.value, '.1f')", "labelOverlap": false, "labelBound": false, "tickCount": 30}},
    "color": {"field": "group", "type": "nominal", "scale": {"domain": ["Young Spermatocytes","Aged Spermatocyte","Young Spermatids","Aged Spermatids","ns: non-significant"], "range": ["#99ccff","#ff6600","#99cc33","#800040","#ffffff"]}, "legend": null}}},
  {"data": {"name": "bars"}, "transform": [{"filter": "datum.panel === 'F'"}], "mark": {"type": "errorbar", "color": "#111", "ticks": {"size": 10, "thickness": 1.2, "color": "#111"}, "rule": {"strokeWidth": 1.2, "color": "#111"}}, "encoding": {"y": {"field": "lo", "type": "quantitative", "title": "Prdx3/18S"}, "y2": {"field": "hi"}}},
  {"data": {"name": "bars"}, "transform": [{"filter": "datum.panel === 'F' && datum.sig !== ''"}], "mark": {"type": "text", "fontSize": 9, "dy": -2, "baseline": "alphabetic", "color": "#222"}, "encoding": {"y": {"field": "hi", "type": "quantitative", "title": "Prdx3/18S"}, "text": {"field": "sig"}}},
  {"data": {"name": "groups"}, "mark": {"type": "rule", "color": "#111", "strokeWidth": 1.1}, "encoding": {"x": {"field": "c1", "type": "nominal", "bandPosition": -0.05}, "x2": {"field": "c2", "bandPosition": 1.05}, "y": {"datum": -0.0166, "type": "quantitative"}}},
  {"data": {"name": "groups"}, "mark": {"type": "text", "fontSize": 9, "baseline": "middle", "color": "#111"}, "encoding": {"x": {"field": "c1", "type": "nominal", "bandPosition": 1.1667}, "y": {"datum": -0.0284, "type": "quantitative"}, "text": {"field": "treat"}}}
 ]},
{"width": 131, "height": 107, "data": {"name": "tables"}, "transform": [{"filter": "datum.panel === 'G'"}, {"fold": ["term","p","s"], "as": ["col","text"]}],
 "encoding": {"x": {"field": "col", "type": "nominal", "scale": {"domain": ["term","p","s"], "range": [-8, 131], "paddingInner": 0, "paddingOuter": 0}, "axis": null}, "y": {"field": "row", "type": "nominal", "scale": {"domain": ["0","1","2","3"], "range": [37, 81], "paddingInner": 0, "paddingOuter": 0}, "axis": null}},
 "layer": [
  {"mark": {"type": "rect", "fill": "white", "stroke": "#1a1a1a", "strokeWidth": 1.3}},
  {"transform": [{"filter": "datum.row === '0' || datum.col === 'term'"}], "mark": {"type": "text", "align": "left", "baseline": "middle", "dx": 2, "font": "Lato", "fontSize": 8, "fontWeight": "bold", "color": "#111"}, "encoding": {"x": {"field": "col", "type": "nominal", "bandPosition": 0, "axis": null}, "text": {"field": "text"}}},
  {"transform": [{"filter": "datum.row !== '0' && datum.col !== 'term'"}], "mark": {"type": "text", "align": "left", "baseline": "middle", "dx": 2, "font": "Lato", "fontSize": 8, "color": "#333"}, "encoding": {"x": {"field": "col", "type": "nominal", "bandPosition": 0, "axis": null}, "text": {"field": "text"}}},
  {"transform": [{"filter": "datum.row === '0' && datum.col === 'term'"}], "mark": {"type": "text", "align": "left", "baseline": "alphabetic", "dx": -53, "dy": 20, "fontSize": 28, "fontWeight": "bold", "color": "#1a1a1a"}, "encoding": {"x": {"field": "col", "type": "nominal", "bandPosition": 0, "axis": null}, "y": {"field": "row", "type": "nominal", "bandPosition": 0, "axis": null}, "text": {"field": "panel"}}}
 ]},
{"width": 137, "height": 107, "data": {"name": "tables"}, "transform": [{"filter": "datum.panel === 'H'"}, {"fold": ["term","p","s"], "as": ["col","text"]}],
 "encoding": {"x": {"field": "col", "type": "nominal", "scale": {"domain": ["term","p","s"], "range": [0, 137], "paddingInner": 0, "paddingOuter": 0}, "axis": null}, "y": {"field": "row", "type": "nominal", "scale": {"domain": ["0","1","2","3"], "range": [37, 81], "paddingInner": 0, "paddingOuter": 0}, "axis": null}},
 "layer": [
  {"mark": {"type": "rect", "fill": "white", "stroke": "#1a1a1a", "strokeWidth": 1.3}},
  {"transform": [{"filter": "datum.row === '0' || datum.col === 'term'"}], "mark": {"type": "text", "align": "left", "baseline": "middle", "dx": 2, "font": "Lato", "fontSize": 8, "fontWeight": "bold", "color": "#111"}, "encoding": {"x": {"field": "col", "type": "nominal", "bandPosition": 0, "axis": null}, "text": {"field": "text"}}},
  {"transform": [{"filter": "datum.row !== '0' && datum.col !== 'term'"}], "mark": {"type": "text", "align": "left", "baseline": "middle", "dx": 2, "font": "Lato", "fontSize": 8, "color": "#333"}, "encoding": {"x": {"field": "col", "type": "nominal", "bandPosition": 0, "axis": null}, "text": {"field": "text"}}},
  {"transform": [{"filter": "datum.row === '0' && datum.col === 'term'"}], "mark": {"type": "text", "align": "left", "baseline": "alphabetic", "dx": -31, "dy": 21, "fontSize": 28, "fontWeight": "bold", "color": "#1a1a1a"}, "encoding": {"x": {"field": "col", "type": "nominal", "bandPosition": 0, "axis": null}, "y": {"field": "row", "type": "nominal", "bandPosition": 0, "axis": null}, "text": {"field": "panel"}}}
 ]},
{"width": 193, "height": 108,
 "encoding": {"x": {"field": "cat", "type": "nominal", "scale": {"type": "band", "domain": ["T17|Y","T17|A","SIN1|Y","SIN1|A","EUK|Y","EUK|A","SIN1+EUK|Y","SIN1+EUK|A"], "paddingInner": 0.25, "paddingOuter": 0.15}, "axis": {"title": null, "labelExpr": "split(datum.label, '|')[1]", "labelOverlap": false}}},
 "layer": [
  {"data": {"name": "groups"}, "transform": [{"filter": "datum.treat !== 'T17'"}], "mark": {"type": "rule", "color": "#8c8c8c", "strokeDash": [2,2], "strokeWidth": 0.8}, "encoding": {"x": {"field": "c1", "type": "nominal", "bandPosition": -0.1667}, "y": {"datum": 0.75, "type": "quantitative"}, "y2": {"datum": -0.0578}}},
  {"data": {"name": "bars"}, "transform": [{"filter": "datum.panel === 'G'"}], "mark": {"type": "bar", "stroke": "#1a1a1a", "strokeWidth": 1.3},
   "encoding": {"y": {"field": "mean", "type": "quantitative", "title": "Prdx4/18S", "scale": {"domain": [0,0.2,0.6,0.8], "range": [108,25,18,1], "zero": false, "nice": false}, "axis": {"title": "Prdx4/18S", "values": [0,0.1,0.2,0.6,0.8], "format": ".1f", "labelOverlap": false, "labelBound": false, "tickCount": 30}},
    "color": {"field": "group", "type": "nominal", "scale": {"domain": ["Young Spermatocytes","Aged Spermatocyte","Young Spermatids","Aged Spermatids","ns: non-significant"], "range": ["#99ccff","#ff6600","#99cc33","#800040","#ffffff"]}, "legend": null}}},
  {"data": {"name": "bars"}, "transform": [{"filter": "datum.panel === 'G'"}], "mark": {"type": "errorbar", "color": "#111", "ticks": {"size": 10, "thickness": 1.2, "color": "#111"}, "rule": {"strokeWidth": 1.2, "color": "#111"}}, "encoding": {"y": {"field": "lo", "type": "quantitative", "title": "Prdx4/18S"}, "y2": {"field": "hi"}}},
  {"data": {"name": "bars"}, "transform": [{"filter": "datum.panel === 'G' && datum.sig !== ''"}], "mark": {"type": "text", "fontSize": 9, "dy": -2, "baseline": "alphabetic", "color": "#222"}, "encoding": {"y": {"field": "hi", "type": "quantitative", "title": "Prdx4/18S"}, "text": {"field": "sig"}}},
  {"data": {"name": "groups"}, "mark": {"type": "rule", "color": "#111", "strokeWidth": 1.1}, "encoding": {"x": {"field": "c1", "type": "nominal", "bandPosition": -0.05}, "x2": {"field": "c2", "bandPosition": 1.05}, "y": {"datum": -0.0282, "type": "quantitative"}}},
  {"data": {"name": "groups"}, "mark": {"type": "text", "fontSize": 9, "baseline": "middle", "color": "#111"}, "encoding": {"x": {"field": "c1", "type": "nominal", "bandPosition": 1.1667}, "y": {"datum": -0.0482, "type": "quantitative"}, "text": {"field": "treat"}}}
 ]},
{"width": 194, "height": 108,
 "encoding": {"x": {"field": "cat", "type": "nominal", "scale": {"type": "band", "domain": ["T17|Y","T17|A","SIN1|Y","SIN1|A","EUK|Y","EUK|A","SIN1+EUK|Y","SIN1+EUK|A"], "paddingInner": 0.25, "paddingOuter": 0.15}, "axis": {"title": null, "labelExpr": "split(datum.label, '|')[1]", "labelOverlap": false}}},
 "layer": [
  {"data": {"name": "groups"}, "transform": [{"filter": "datum.treat !== 'T17'"}], "mark": {"type": "rule", "color": "#8c8c8c", "strokeDash": [2,2], "strokeWidth": 0.8}, "encoding": {"x": {"field": "c1", "type": "nominal", "bandPosition": -0.1667}, "y": {"datum": 0.69, "type": "quantitative"}, "y2": {"datum": -0.1778}}},
  {"data": {"name": "bars"}, "transform": [{"filter": "datum.panel === 'H'"}], "mark": {"type": "bar", "stroke": "#1a1a1a", "strokeWidth": 1.3},
   "encoding": {"y": {"field": "mean", "type": "quantitative", "title": "Prdx4/18S", "scale": {"domain": [0,0.8], "range": [108,0], "zero": false, "nice": false}, "axis": {"title": "Prdx4/18S", "values": [0,0.2,0.4,0.6,0.8], "format": ".1f", "labelOverlap": false, "labelBound": false, "tickCount": 30}},
    "color": {"field": "group", "type": "nominal", "scale": {"domain": ["Young Spermatocytes","Aged Spermatocyte","Young Spermatids","Aged Spermatids","ns: non-significant"], "range": ["#99ccff","#ff6600","#99cc33","#800040","#ffffff"]}, "legend": null}}},
  {"data": {"name": "bars"}, "transform": [{"filter": "datum.panel === 'H'"}], "mark": {"type": "errorbar", "color": "#111", "ticks": {"size": 10, "thickness": 1.2, "color": "#111"}, "rule": {"strokeWidth": 1.2, "color": "#111"}}, "encoding": {"y": {"field": "lo", "type": "quantitative", "title": "Prdx4/18S"}, "y2": {"field": "hi"}}},
  {"data": {"name": "siglines"}, "transform": [{"filter": "datum.panel === 'H'"}], "mark": {"type": "rule", "color": "#111", "strokeWidth": 1.1}, "encoding": {"x": {"field": "c1", "type": "nominal", "bandPosition": 0.5}, "x2": {"field": "c2", "bandPosition": 0.5}, "y": {"field": "yv", "type": "quantitative", "title": "Prdx4/18S"}}},
  {"data": {"name": "siglines"}, "transform": [{"filter": "datum.panel === 'H'"}], "mark": {"type": "text", "fontSize": 9, "baseline": "alphabetic", "dy": 0, "color": "#222"}, "encoding": {"x": {"field": "c1", "type": "nominal", "bandPosition": 1.1667}, "y": {"field": "yv", "type": "quantitative", "title": "Prdx4/18S"}, "text": {"field": "label"}}},
  {"data": {"name": "groups"}, "mark": {"type": "rule", "color": "#111", "strokeWidth": 1.1}, "encoding": {"x": {"field": "c1", "type": "nominal", "bandPosition": -0.05}, "x2": {"field": "c2", "bandPosition": 1.05}, "y": {"datum": -0.0867, "type": "quantitative"}}},
  {"data": {"name": "groups"}, "mark": {"type": "text", "fontSize": 9, "baseline": "middle", "color": "#111"}, "encoding": {"x": {"field": "c1", "type": "nominal", "bandPosition": 1.1667}, "y": {"datum": -0.1481, "type": "quantitative"}, "text": {"field": "treat"}}}
 ]},
{"width": 131, "height": 94, "data": {"name": "tables"}, "transform": [{"filter": "datum.panel === 'I'"}, {"fold": ["term","p","s"], "as": ["col","text"]}],
 "encoding": {"x": {"field": "col", "type": "nominal", "scale": {"domain": ["term","p","s"], "range": [-8, 131], "paddingInner": 0, "paddingOuter": 0}, "axis": null}, "y": {"field": "row", "type": "nominal", "scale": {"domain": ["0","1","2","3"], "range": [29, 73], "paddingInner": 0, "paddingOuter": 0}, "axis": null}},
 "layer": [
  {"mark": {"type": "rect", "fill": "white", "stroke": "#1a1a1a", "strokeWidth": 1.3}},
  {"transform": [{"filter": "datum.row === '0' || datum.col === 'term'"}], "mark": {"type": "text", "align": "left", "baseline": "middle", "dx": 2, "font": "Lato", "fontSize": 8, "fontWeight": "bold", "color": "#111"}, "encoding": {"x": {"field": "col", "type": "nominal", "bandPosition": 0, "axis": null}, "text": {"field": "text"}}},
  {"transform": [{"filter": "datum.row !== '0' && datum.col !== 'term'"}], "mark": {"type": "text", "align": "left", "baseline": "middle", "dx": 2, "font": "Lato", "fontSize": 8, "color": "#333"}, "encoding": {"x": {"field": "col", "type": "nominal", "bandPosition": 0, "axis": null}, "text": {"field": "text"}}},
  {"transform": [{"filter": "datum.row === '0' && datum.col === 'term'"}], "mark": {"type": "text", "align": "left", "baseline": "alphabetic", "dx": -51, "dy": 28, "fontSize": 28, "fontWeight": "bold", "color": "#1a1a1a"}, "encoding": {"x": {"field": "col", "type": "nominal", "bandPosition": 0, "axis": null}, "y": {"field": "row", "type": "nominal", "bandPosition": 0, "axis": null}, "text": {"field": "panel"}}}
 ]},
{"width": 137, "height": 94, "data": {"name": "tables"}, "transform": [{"filter": "datum.panel === 'J'"}, {"fold": ["term","p","s"], "as": ["col","text"]}],
 "encoding": {"x": {"field": "col", "type": "nominal", "scale": {"domain": ["term","p","s"], "range": [0, 137], "paddingInner": 0, "paddingOuter": 0}, "axis": null}, "y": {"field": "row", "type": "nominal", "scale": {"domain": ["0","1","2","3"], "range": [29, 73], "paddingInner": 0, "paddingOuter": 0}, "axis": null}},
 "layer": [
  {"mark": {"type": "rect", "fill": "white", "stroke": "#1a1a1a", "strokeWidth": 1.3}},
  {"transform": [{"filter": "datum.row === '0' || datum.col === 'term'"}], "mark": {"type": "text", "align": "left", "baseline": "middle", "dx": 2, "font": "Lato", "fontSize": 8, "fontWeight": "bold", "color": "#111"}, "encoding": {"x": {"field": "col", "type": "nominal", "bandPosition": 0, "axis": null}, "text": {"field": "text"}}},
  {"transform": [{"filter": "datum.row !== '0' && datum.col !== 'term'"}], "mark": {"type": "text", "align": "left", "baseline": "middle", "dx": 2, "font": "Lato", "fontSize": 8, "color": "#333"}, "encoding": {"x": {"field": "col", "type": "nominal", "bandPosition": 0, "axis": null}, "text": {"field": "text"}}},
  {"transform": [{"filter": "datum.row === '0' && datum.col === 'term'"}], "mark": {"type": "text", "align": "left", "baseline": "alphabetic", "dx": -33, "dy": 28, "fontSize": 28, "fontWeight": "bold", "color": "#1a1a1a"}, "encoding": {"x": {"field": "col", "type": "nominal", "bandPosition": 0, "axis": null}, "y": {"field": "row", "type": "nominal", "bandPosition": 0, "axis": null}, "text": {"field": "panel"}}}
 ]},
{"width": 193, "height": 108,
 "encoding": {"x": {"field": "cat", "type": "nominal", "scale": {"type": "band", "domain": ["T17|Y","T17|A","SIN1|Y","SIN1|A","EUK|Y","EUK|A","SIN1+EUK|Y","SIN1+EUK|A"], "paddingInner": 0.25, "paddingOuter": 0.15}, "axis": {"title": null, "labelExpr": "split(datum.label, '|')[1]", "labelOverlap": false}}},
 "layer": [
  {"data": {"name": "groups"}, "transform": [{"filter": "datum.treat !== 'T17'"}], "mark": {"type": "rule", "color": "#8c8c8c", "strokeDash": [2,2], "strokeWidth": 0.8}, "encoding": {"x": {"field": "c1", "type": "nominal", "bandPosition": -0.1667}, "y": {"datum": 1.43, "type": "quantitative"}, "y2": {"datum": -0.33}}},
  {"data": {"name": "bars"}, "transform": [{"filter": "datum.panel === 'I'"}], "mark": {"type": "bar", "stroke": "#1a1a1a", "strokeWidth": 1.3},
   "encoding": {"y": {"field": "mean", "type": "quantitative", "title": "Prdx6/18S", "scale": {"domain": [0,1.5], "range": [108,3], "zero": false, "nice": false}, "axis": {"title": "Prdx6/18S", "values": [0,0.5,1.0,1.5], "format": ".1f", "labelOverlap": false, "labelBound": false, "tickCount": 30}},
    "color": {"field": "group", "type": "nominal", "scale": {"domain": ["Young Spermatocytes","Aged Spermatocyte","Young Spermatids","Aged Spermatids","ns: non-significant"], "range": ["#99ccff","#ff6600","#99cc33","#800040","#ffffff"]}, "legend": null}}},
  {"data": {"name": "bars"}, "transform": [{"filter": "datum.panel === 'I'"}], "mark": {"type": "errorbar", "color": "#111", "ticks": {"size": 10, "thickness": 1.2, "color": "#111"}, "rule": {"strokeWidth": 1.2, "color": "#111"}}, "encoding": {"y": {"field": "lo", "type": "quantitative", "title": "Prdx6/18S"}, "y2": {"field": "hi"}}},
  {"data": {"name": "groups"}, "mark": {"type": "rule", "color": "#111", "strokeWidth": 1.1}, "encoding": {"x": {"field": "c1", "type": "nominal", "bandPosition": -0.05}, "x2": {"field": "c2", "bandPosition": 1.05}, "y": {"datum": -0.164, "type": "quantitative"}}},
  {"data": {"name": "groups"}, "mark": {"type": "text", "fontSize": 9, "baseline": "middle", "color": "#111"}, "encoding": {"x": {"field": "c1", "type": "nominal", "bandPosition": 1.1667}, "y": {"datum": -0.266, "type": "quantitative"}, "text": {"field": "treat"}}}
 ]},
{"width": 194, "height": 108,
 "encoding": {"x": {"field": "cat", "type": "nominal", "scale": {"type": "band", "domain": ["T17|Y","T17|A","SIN1|Y","SIN1|A","EUK|Y","EUK|A","SIN1+EUK|Y","SIN1+EUK|A"], "paddingInner": 0.25, "paddingOuter": 0.15}, "axis": {"title": null, "labelExpr": "split(datum.label, '|')[1]", "labelOverlap": false}}},
 "layer": [
  {"data": {"name": "groups"}, "transform": [{"filter": "datum.treat !== 'T17'"}], "mark": {"type": "rule", "color": "#8c8c8c", "strokeDash": [2,2], "strokeWidth": 0.8}, "encoding": {"x": {"field": "c1", "type": "nominal", "bandPosition": -0.1667}, "y": {"datum": 1.0, "type": "quantitative"}, "y2": {"datum": -0.13}}},
  {"data": {"name": "bars"}, "transform": [{"filter": "datum.panel === 'J'"}], "mark": {"type": "bar", "stroke": "#1a1a1a", "strokeWidth": 1.3},
   "encoding": {"y": {"field": "mean", "type": "quantitative", "title": "Prdx6/18S", "scale": {"domain": [0,0.5,1.0,1.5], "range": [108,20,14,0], "zero": false, "nice": false}, "axis": {"title": "Prdx6/18S", "values": [0,0.1,0.2,0.3,0.4,0.5,1.0,1.5], "format": ".1f", "labelOverlap": false, "labelBound": false, "tickCount": 30}},
    "color": {"field": "group", "type": "nominal", "scale": {"domain": ["Young Spermatocytes","Aged Spermatocyte","Young Spermatids","Aged Spermatids","ns: non-significant"], "range": ["#99ccff","#ff6600","#99cc33","#800040","#ffffff"]}, "legend": null}}},
  {"data": {"name": "bars"}, "transform": [{"filter": "datum.panel === 'J'"}], "mark": {"type": "errorbar", "color": "#111", "ticks": {"size": 10, "thickness": 1.2, "color": "#111"}, "rule": {"strokeWidth": 1.2, "color": "#111"}}, "encoding": {"y": {"field": "lo", "type": "quantitative", "title": "Prdx6/18S"}, "y2": {"field": "hi"}}},
  {"data": {"name": "bars"}, "transform": [{"filter": "datum.panel === 'J' && datum.sig !== ''"}], "mark": {"type": "text", "fontSize": 9, "dy": -2, "baseline": "alphabetic", "color": "#222"}, "encoding": {"y": {"field": "hi", "type": "quantitative", "title": "Prdx6/18S"}, "text": {"field": "sig"}}},
  {"data": {"name": "groups"}, "mark": {"type": "rule", "color": "#111", "strokeWidth": 1.1}, "encoding": {"x": {"field": "c1", "type": "nominal", "bandPosition": -0.05}, "x2": {"field": "c2", "bandPosition": 1.05}, "y": {"datum": -0.066, "type": "quantitative"}}},
  {"data": {"name": "groups"}, "mark": {"type": "text", "fontSize": 9, "baseline": "middle", "color": "#111"}, "encoding": {"x": {"field": "c1", "type": "nominal", "bandPosition": 1.1667}, "y": {"datum": -0.107, "type": "quantitative"}, "text": {"field": "treat"}}}
 ]}
],
"config": {
 "view": {"stroke": null},
 "font": "Liberation Sans",
 "axis": {"grid": false, "domainColor": "#000", "domainWidth": 1.3, "tickColor": "#000", "tickWidth": 1, "tickSize": 3, "labelFont": "Liberation Sans", "labelFontSize": 7, "labelColor": "#333", "labelPadding": 1, "titleFont": "Liberation Sans", "titleFontSize": 14, "titleFontStyle": "italic", "titleFontWeight": "normal", "titleColor": "#111", "titlePadding": 10, "labelOverlap": false},
 "axisY": {"labelOverlap": false},
 "axisX": {"labelAngle": 0, "labelFontSize": 7.5, "tickSize": 2.5, "labelPadding": 0.5}
}
}
